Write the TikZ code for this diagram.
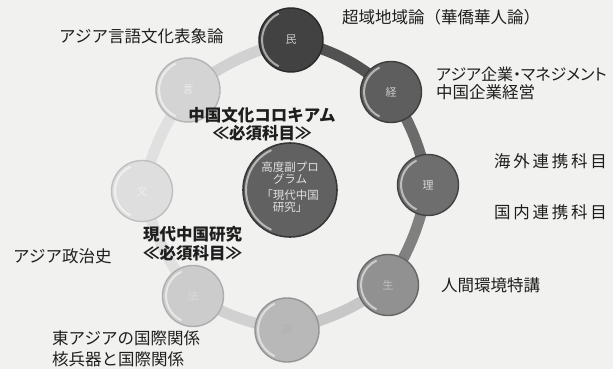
\documentclass[tikz,border=0pt]{standalone}
\usepackage{fontspec}
\setmainfont{Noto Sans CJK JP}
\pgfdeclarelayer{back}
\pgfdeclarelayer{links}
\pgfsetlayers{back,links,main}
\definecolor{bg}{HTML}{F1F1EF}
\definecolor{ink}{HTML}{1E1E1E}
\begin{document}
\begin{tikzpicture}[x=1pt,y=1pt,
  lbl/.style={font=\fontsize{16.5}{18}\selectfont, text=ink, inner sep=0pt},
  blbl/.style={font=\fontsize{16.5}{18}\selectfont\bfseries, text=ink, inner sep=0pt},
  ball/.style={circle, minimum size=#1, inner sep=0pt, line width=1.4pt,
     font=\fontsize{11}{12}\selectfont},
  ball/.default=61pt,
  link/.style={line width=11pt},
  hl/.style={white, opacity=0.55, line width=2pt},
  ctext/.style={font=\fontsize{11.5}{13}\selectfont, text=white!88!black, align=center}]
\begin{pgfonlayer}{back}
\fill[bg] (0,0) rectangle (613,369);
\end{pgfonlayer}
\useasboundingbox (0,0) rectangle (613,369);

% balls
\node[ball=64pt, fill=black!74, draw=black!84, text=white!80!black] (min) at (291,329) {民};
\node[ball, fill=black!63, draw=black!76, text=white!80!black] (kei) at (391,277) {経};
\node[ball, fill=black!57, draw=black!74, text=white!85!black] (ri) at (428,184) {理};
\node[ball, fill=black!43, draw=black!60, text=white!75!black] (sei) at (388,84) {生};
\node[ball=64pt, fill=black!28, draw=black!42, text=white!70!black] (koku) at (287,39) {国};
\node[ball, fill=black!20, draw=black!32, text=black!14] (hou) at (193,73) {法};
\node[ball, fill=black!13, draw=black!25, text=black!7] (bun) at (142,178) {文};
\node[ball=64pt, fill=black!17, draw=black!29, text=black!8] (gen) at (188,279) {言};

% center
\node[circle, minimum size=94pt, inner sep=0pt, fill=black!62, draw=black!78, line width=1.6pt] (ctr) at (290,179) {};
\node[ctext] (ctxt) at (290,182) {高度副プロ\\[-1pt]グラム\\[3pt]「現代中国\\[-1pt]研究」};

% highlights
\foreach \n/\r in {min/29,kei/27,ri/27,sei/27,koku/29,hou/27,bun/27,gen/29,ctr/44}{
  \draw[hl] (\n.center) ++(115:\r) arc[start angle=115, end angle=245, radius=\r];
}

% links
\begin{pgfonlayer}{links}
\draw[link, black!68] (min.center) to[bend left=14] (kei.center);
\draw[link, black!58] (kei.center) to[bend left=10] (ri.center);
\draw[link, black!50] (ri.center) to[bend left=10] (sei.center);
\draw[link, black!22] (sei.center) to[bend left=10] (koku.center);
\draw[link, black!18] (koku.center) to[bend left=10] (hou.center);
\draw[link, black!12] (hou.center) to[bend left=10] (bun.center);
\draw[link, black!12] (bun.center) to[bend left=10] (gen.center);
\draw[link, black!18] (gen.center) to[bend left=10] (min.center);
\end{pgfonlayer}

% labels
\node[lbl, anchor=west] (t1) at (59,333) {アジア言語文化表象論};
\node[lbl, anchor=west] (t2) at (342,352) {超域地域論（華僑華人論）};
\node[lbl, anchor=west, font=\fontsize{16}{18}\selectfont\addfontfeature{RawFeature=+palt}] (t3) at (436,294.5) {アジア企業・マネジメント};
\node[lbl, anchor=west] (t4) at (436,276.5) {中国企業経営};
\node[blbl, anchor=center] (t5) at (262,254) {中国文化コロキアム};
\node[blbl, anchor=center] (t6) at (262,236) {≪必須科目≫};
\node[lbl, anchor=west] (t7) at (494,208) {海\,外\,連\,携\,科\,目};
\node[lbl, anchor=west] (t8) at (494,156.5) {国\,内\,連\,携\,科\,目};
\node[blbl, anchor=west] (t9) at (143,135) {現代中国研究};
\node[blbl, anchor=west] (t10) at (143,116) {≪必須科目≫};
\node[lbl, anchor=west] (t11) at (13,113) {アジア政治史};
\node[lbl, anchor=west] (t12) at (441,83.5) {人間環境特講};
\node[lbl, anchor=west] (t13) at (52,31) {東アジアの国際関係};
\node[lbl, anchor=west] (t14) at (52,10) {核兵器と国際関係};
\end{tikzpicture}
\end{document}
